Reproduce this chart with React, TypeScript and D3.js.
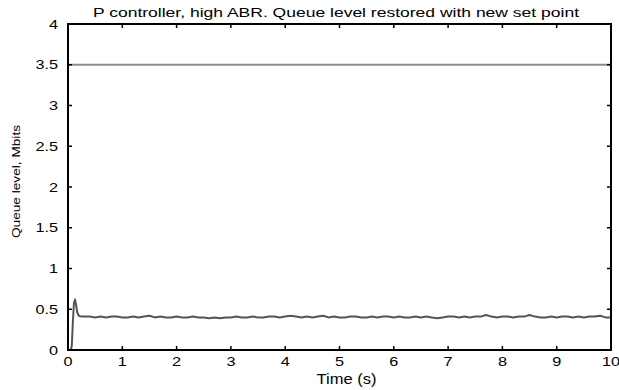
import React from "react";
import * as d3 from "d3";

const title = "P controller, high ABR. Queue level restored with new set point";
const xLabel = "Time (s)";
const yLabel = "Queue level, Mbits";
const xTicks = [0, 1, 2, 3, 4, 5, 6, 7, 8, 9, 10];
const yTicks = [0, 0.5, 1, 1.5, 2, 2.5, 3, 3.5, 4];
const setPoint = 3.5;

// start-up transient (time, value)
const startTimes = [0, 0.05, 0.07, 0.09, 0.11, 0.13, 0.15, 0.17, 0.2, 0.25, 0.3];
const startValues = [0, 0, 0.05, 0.35, 0.58, 0.62, 0.55, 0.46, 0.42, 0.41, 0.41];

// steady-state samples every 0.1 s from 0.4 s to 10 s
const tailStart = 0.4;
const tailStep = 0.1;
const tailValues = [
  0.41, 0.40, 0.41, 0.40, 0.41, 0.41, 0.40, 0.40, 0.41, 0.40,
  0.41, 0.42, 0.40, 0.41, 0.40, 0.40, 0.41, 0.40, 0.40, 0.41,
  0.40, 0.40, 0.39, 0.40, 0.39, 0.40, 0.40, 0.41, 0.40, 0.40,
  0.41, 0.40, 0.40, 0.41, 0.41, 0.40, 0.41, 0.42, 0.41, 0.40,
  0.41, 0.40, 0.41, 0.42, 0.40, 0.41, 0.40, 0.40, 0.41, 0.41,
  0.40, 0.40, 0.41, 0.40, 0.41, 0.41, 0.40, 0.41, 0.40, 0.40,
  0.41, 0.40, 0.41, 0.40, 0.39, 0.40, 0.41, 0.41, 0.40, 0.41,
  0.40, 0.41, 0.41, 0.43, 0.41, 0.40, 0.41, 0.41, 0.40, 0.41,
  0.41, 0.43, 0.41, 0.40, 0.40, 0.41, 0.40, 0.41, 0.41, 0.40,
  0.41, 0.40, 0.41, 0.41, 0.42, 0.40, 0.40,
];

function SText(props: { x: number; y: number; anchor: string; size: number; sx: number; children: React.ReactNode }) {
  const { x, y, anchor, size, sx, children } = props;
  return (
    <text transform={`translate(${x},${y}) scale(${sx},1)`} textAnchor={anchor} fontSize={size}>
      {children}
    </text>
  );
}

export default function App() {
  const W = 619, H = 390;
  const m = { l: 68, r: 611, t: 24, b: 350 };
  const x = d3.scaleLinear().domain([0, 10]).range([m.l, m.r]);
  const y = d3.scaleLinear().domain([0, 4]).range([m.b, m.t]);

  const pts: [number, number][] = startTimes.map((t, i) => [t, startValues[i]]);
  tailValues.forEach((v, i) => pts.push([tailStart + i * tailStep, v]));

  const line = d3.line<[number, number]>().x(d => x(d[0])).y(d => y(d[1])).curve(d3.curveLinear);
  const font = "Liberation Sans, Arial, sans-serif";
  const tl = 4;
  const tickSize = 12.5;
  const tickSx = 1.3;

  return (
    <svg width={W} height={H} style={{ position: "absolute", left: 0, top: 0 }} fontFamily={font}>
      <rect width={W} height={H} fill="#fff" />
      <text x={336} y={16.5} textAnchor="middle" fontSize={13} textLength={486} lengthAdjust="spacingAndGlyphs">{title}</text>
      <line x1={m.l} x2={m.r} y1={y(setPoint)} y2={y(setPoint)} stroke="#8c8c8c" strokeWidth={2} />
      <path d={line(pts) || ""} fill="none" stroke="#555" strokeWidth={2} strokeLinejoin="round" />
      {xTicks.map(t => (
        <g key={"x" + t}>
          <line x1={x(t)} x2={x(t)} y1={m.b} y2={m.b - tl} stroke="#000" strokeWidth={1.5} />
          <line x1={x(t)} x2={x(t)} y1={m.t} y2={m.t + tl} stroke="#000" strokeWidth={1.5} />
          <SText x={x(t)} y={365.5} anchor="middle" size={tickSize} sx={tickSx}>{t}</SText>
        </g>
      ))}
      {yTicks.map(t => (
        <g key={"y" + t}>
          <line x1={m.l} x2={m.l + tl} y1={y(t)} y2={y(t)} stroke="#000" strokeWidth={1.5} />
          <line x1={m.r} x2={m.r - tl} y1={y(t)} y2={y(t)} stroke="#000" strokeWidth={1.5} />
          <SText x={58} y={y(t) + 4.5} anchor="end" size={tickSize} sx={tickSx}>{t}</SText>
        </g>
      ))}
      <rect x={m.l} y={m.t} width={m.r - m.l} height={m.b - m.t} fill="none" stroke="#000" strokeWidth={2} />
      <text x={346.5} y={384} textAnchor="middle" fontSize={14} textLength={60} lengthAdjust="spacingAndGlyphs">{xLabel}</text>
      <text transform={`translate(20,181.5) rotate(-90)`} textAnchor="middle" fontSize={11} textLength={113} lengthAdjust="spacingAndGlyphs">{yLabel}</text>
    </svg>
  );
}
